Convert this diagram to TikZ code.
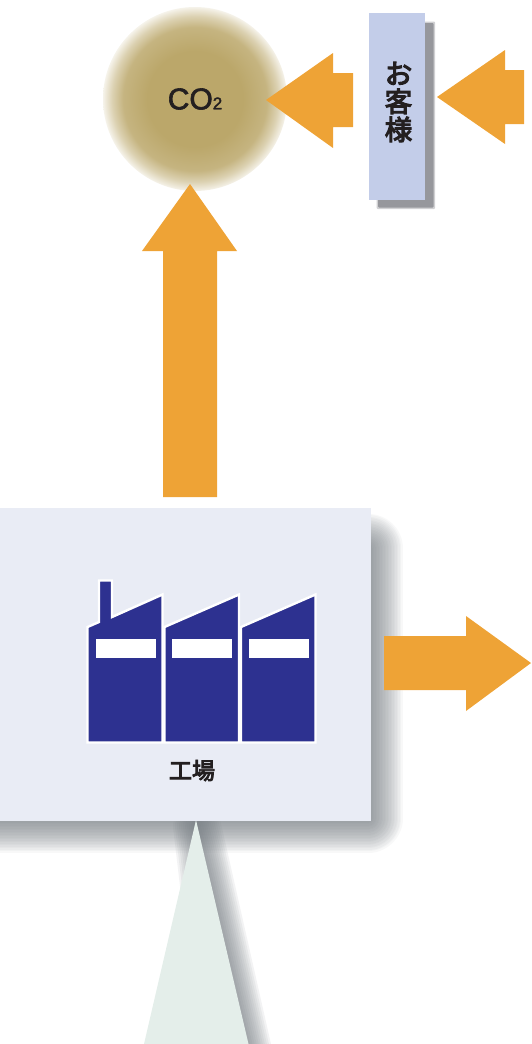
\documentclass[tikz,border=0pt]{standalone}
\usepackage{fontspec}
\setmainfont{Liberation Sans}
\newfontfamily\cjkfont[FakeBold=4]{Noto Sans CJK JP}
\newfontfamily\cofont[FakeBold=2]{Liberation Sans}
\definecolor{arrowc}{HTML}{EEA336}
\definecolor{co2c}{HTML}{BBA76A}
\definecolor{custc}{HTML}{C3CDE9}
\definecolor{factc}{HTML}{E9ECF5}
\definecolor{navyc}{HTML}{2D3190}
\definecolor{trianglec}{HTML}{E4EEEA}
\definecolor{shadowc}{HTML}{6F767C}
\definecolor{custshadow}{HTML}{96979C}
\definecolor{inkc}{HTML}{231F20}
\pgfdeclareradialshading{co2shade}{\pgfpoint{0bp}{0bp}}{%
  color(0bp)=(co2c);
  color(13bp)=(co2c);
  color(19.5bp)=(co2c!85!white);
  color(22.5bp)=(co2c!52!white);
  color(24.5bp)=(co2c!22!white);
  color(25bp)=(co2c!14!white);
  color(50bp)=(co2c!14!white)}
\tikzset{
  x=1pt,y=-1pt,
  blockarrow/.style={fill=arrowc,draw=none},
  building/.style={fill=navyc,draw=white,line width=2.4pt,line join=miter},
  windowbar/.style={fill=white,draw=none},
  softlayer/.style={fill=shadowc,draw=shadowc,line join=round,opacity=#1},
  labeltext/.style={text=inkc,inner sep=0pt},
}
\begin{document}
\begin{tikzpicture}
\useasboundingbox (0,0) rectangle (531,1044);
\clip (0,0) rectangle (531,1044);
% CO2
\node[circle,minimum size=184pt,inner sep=0pt,shading=co2shade,labeltext] (co2) at (195,99)
  {\cofont\fontsize{30}{30}\selectfont CO{\fontsize{17}{17}\selectfont 2}};
% customer shadow and box
\fill[custshadow,opacity=.45,rounded corners=1pt] (376.5,21.5) rectangle (435,209);
\fill[custshadow,rounded corners=1pt] (378,23) rectangle (433.5,207.5);
\node[rectangle,minimum width=56pt,minimum height=187pt,inner sep=0pt,fill=custc] (customer) at (397,106.5) {};
\node[labeltext,align=center,font=\cjkfont\fontsize{27.5}{28}\selectfont] (customerlabel) at (398.5,102) {お\\客\\様};
% triangle shadow, factory shadow
\foreach \w in {4,8,...,48}{\path[softlayer=0.085,line width=\w pt] (197,826) -- (250,1060) -- (225,1060) -- cycle;}
\foreach \w in {3,6,...,69}{\path[softlayer=0.05,line width=\w pt] (-40,548) rectangle (368,818);}
% arrows
\fill[blockarrow] (266,100) -- (333,53) -- (333,73) -- (353,73) -- (353,127) -- (333,127) -- (333,148) -- cycle;
\fill[blockarrow] (437,97) -- (505,50) -- (505,70) -- (524,70) -- (524,124) -- (505,124) -- (505,144) -- cycle;
\fill[blockarrow] (190,184) -- (237,251) -- (217,251) -- (217,497) -- (163,497) -- (163,251) -- (142,251) -- cycle;
\fill[blockarrow] (531,663) -- (466,616) -- (466,636) -- (384,636) -- (384,690) -- (466,690) -- (466,711) -- cycle;
\fill[trianglec] (196,820) -- (248.5,1044) -- (144,1044) -- cycle;
\node[rectangle,minimum width=391pt,minimum height=313pt,inner sep=0pt,fill=factc,anchor=north east] (factory) at (371,508) {};
% buildings
\path[building] (87.5,627) -- (99,622) -- (99,580.5) -- (112,580.5) -- (112,617) -- (162.5,594.5) -- (162.5,742.5) -- (87.5,742.5) -- cycle;
\path[building] (164.5,627) -- (239,594.5) -- (239,742.5) -- (164.5,742.5) -- cycle;
\path[building] (241,627) -- (315.5,594.5) -- (315.5,742.5) -- (241,742.5) -- cycle;
\fill[windowbar] (96,639) rectangle (156,658);
\fill[windowbar] (172,639) rectangle (232,658);
\fill[windowbar] (249,639) rectangle (309,658);
\node[labeltext,font=\cjkfont\fontsize{23}{23}\selectfont] (factorylabel) at (192,770.5) {工場};
\end{tikzpicture}
\end{document}
